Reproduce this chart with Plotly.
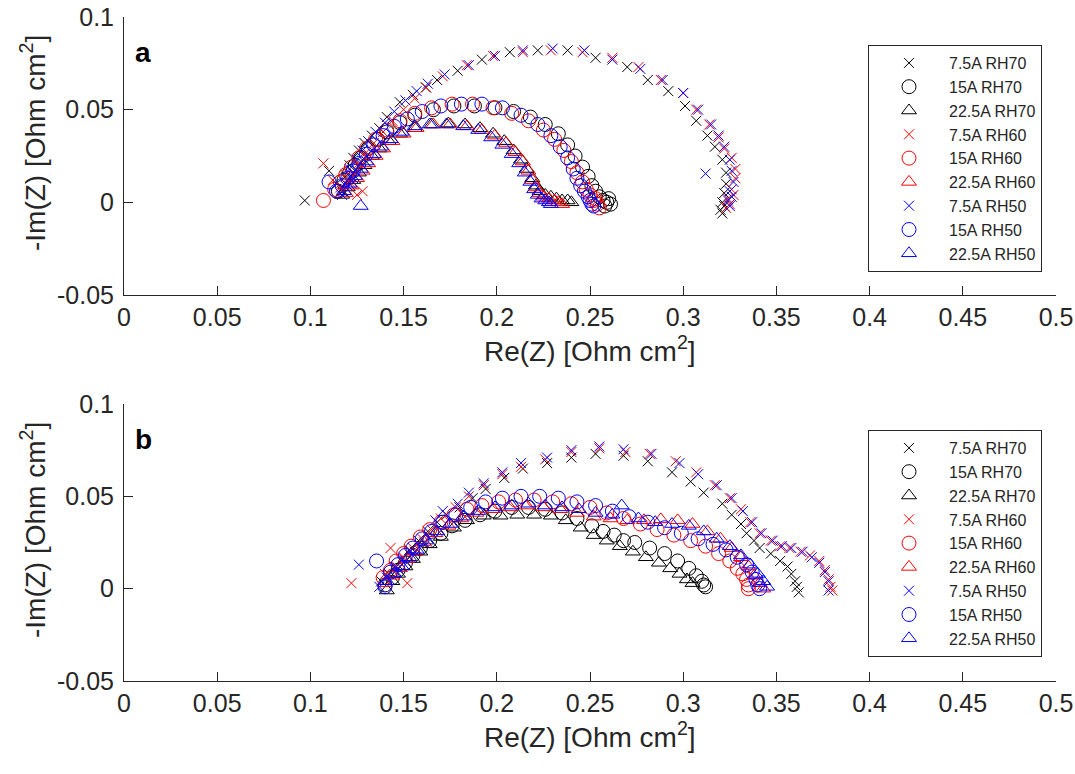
import plotly.graph_objects as go

# ---------------- Panel a data ----------------
a_k_x75_x = [0.097, 0.110, 0.114, 0.117, 0.119, 0.121, 0.123, 0.126, 0.129, 0.133, 0.137, 0.141, 0.148, 0.155, 0.162, 0.168, 0.179, 0.192, 0.207, 0.222, 0.238, 0.253, 0.270, 0.281, 0.292, 0.301, 0.307, 0.313, 0.317, 0.321, 0.323, 0.323, 0.322, 0.321, 0.320, 0.321, 0.322]
a_k_x75_y = [0.001, 0.017, 0.010, 0.006, 0.014, 0.020, 0.024, 0.028, 0.032, 0.036, 0.040, 0.046, 0.054, 0.058, 0.062, 0.066, 0.071, 0.077, 0.081, 0.082, 0.082, 0.078, 0.073, 0.066, 0.060, 0.052, 0.044, 0.036, 0.030, 0.023, 0.016, 0.010, 0.005, 0.000, -0.004, -0.006, -0.002]
a_k_o15_x = [0.115, 0.118, 0.121, 0.124, 0.127, 0.131, 0.136, 0.141, 0.148, 0.156, 0.166, 0.177, 0.188, 0.199, 0.209, 0.218, 0.226, 0.233, 0.238, 0.242, 0.246, 0.249, 0.251, 0.253, 0.255, 0.257, 0.259, 0.261, 0.260, 0.258]
a_k_o15_y = [0.006, 0.012, 0.016, 0.020, 0.024, 0.029, 0.034, 0.038, 0.043, 0.047, 0.050, 0.052, 0.052, 0.051, 0.049, 0.046, 0.042, 0.037, 0.031, 0.025, 0.019, 0.014, 0.009, 0.006, 0.003, 0.001, 0.000, -0.001, 0.002, -0.002]
a_k_t22_x = [0.117, 0.120, 0.123, 0.126, 0.129, 0.133, 0.137, 0.142, 0.148, 0.156, 0.165, 0.174, 0.183, 0.191, 0.198, 0.204, 0.209, 0.213, 0.216, 0.219, 0.221, 0.223, 0.226, 0.229, 0.232, 0.235, 0.238, 0.240]
a_k_t22_y = [0.004, 0.008, 0.012, 0.016, 0.020, 0.025, 0.029, 0.033, 0.037, 0.040, 0.042, 0.0425, 0.042, 0.040, 0.037, 0.033, 0.028, 0.023, 0.018, 0.013, 0.009, 0.006, 0.004, 0.003, 0.002, 0.001, 0.001, 0.000]

a_r_x75_x = [0.107, 0.112, 0.116, 0.119, 0.122, 0.125, 0.128, 0.126, 0.130, 0.134, 0.139, 0.144, 0.150, 0.156, 0.162, 0.171, 0.184, 0.198, 0.214, 0.229, 0.246, 0.262, 0.276, 0.288, 0.300, 0.307, 0.314, 0.319, 0.322, 0.326, 0.328, 0.328, 0.326, 0.324, 0.323, 0.325, 0.327]
a_r_x75_y = [0.021, 0.012, 0.008, 0.015, 0.010, 0.004, 0.006, 0.021, 0.027, 0.032, 0.038, 0.044, 0.050, 0.056, 0.062, 0.068, 0.074, 0.079, 0.081, 0.082, 0.081, 0.078, 0.073, 0.066, 0.059, 0.050, 0.042, 0.035, 0.029, 0.024, 0.018, 0.013, 0.007, 0.002, -0.003, -0.001, 0.004]
a_r_o15_x = [0.107, 0.113, 0.116, 0.119, 0.122, 0.126, 0.130, 0.135, 0.141, 0.148, 0.156, 0.165, 0.176, 0.187, 0.198, 0.208, 0.217, 0.225, 0.231, 0.236, 0.240, 0.243, 0.246, 0.248, 0.250, 0.252, 0.254, 0.255, 0.253]
a_r_o15_y = [0.001, 0.007, 0.011, 0.015, 0.019, 0.024, 0.029, 0.034, 0.039, 0.044, 0.048, 0.051, 0.053, 0.053, 0.051, 0.048, 0.044, 0.039, 0.034, 0.028, 0.022, 0.016, 0.011, 0.007, 0.004, 0.001, -0.001, -0.003, 0.002]
a_r_t22_x = [0.119, 0.122, 0.125, 0.128, 0.131, 0.135, 0.139, 0.144, 0.150, 0.157, 0.166, 0.175, 0.184, 0.192, 0.199, 0.205, 0.210, 0.214, 0.217, 0.219, 0.221, 0.223, 0.225, 0.228, 0.231, 0.233, 0.235]
a_r_t22_y = [0.005, 0.009, 0.013, 0.017, 0.021, 0.025, 0.029, 0.033, 0.037, 0.040, 0.042, 0.042, 0.041, 0.039, 0.036, 0.032, 0.027, 0.022, 0.017, 0.012, 0.008, 0.005, 0.003, 0.002, 0.001, 0.000, -0.001]

a_b_x75_x = [0.117, 0.120, 0.123, 0.121, 0.125, 0.128, 0.131, 0.135, 0.140, 0.145, 0.151, 0.157, 0.163, 0.172, 0.185, 0.199, 0.214, 0.230, 0.247, 0.262, 0.277, 0.289, 0.300, 0.308, 0.312, 0.315, 0.319, 0.322, 0.325, 0.326, 0.327, 0.325, 0.324, 0.325, 0.326]
a_b_x75_y = [0.004, 0.009, 0.013, 0.018, 0.023, 0.028, 0.033, 0.038, 0.043, 0.049, 0.055, 0.060, 0.064, 0.069, 0.074, 0.079, 0.082, 0.083, 0.082, 0.077, 0.072, 0.066, 0.059, 0.050, 0.0155, 0.042, 0.036, 0.030, 0.023, 0.017, 0.011, 0.006, 0.001, -0.002, 0.003]
a_b_o15_x = [0.110, 0.114, 0.117, 0.120, 0.123, 0.126, 0.130, 0.134, 0.139, 0.145, 0.152, 0.160, 0.170, 0.181, 0.192, 0.203, 0.213, 0.222, 0.229, 0.234, 0.238, 0.241, 0.243, 0.245, 0.247, 0.249, 0.250, 0.251, 0.252]
a_b_o15_y = [0.011, 0.006, 0.009, 0.013, 0.017, 0.021, 0.026, 0.031, 0.036, 0.041, 0.045, 0.049, 0.052, 0.053, 0.053, 0.051, 0.047, 0.042, 0.036, 0.030, 0.024, 0.018, 0.013, 0.009, 0.006, 0.003, 0.001, -0.001, -0.002]
a_b_t22_x = [0.127, 0.118, 0.121, 0.124, 0.127, 0.130, 0.134, 0.138, 0.143, 0.149, 0.156, 0.164, 0.173, 0.182, 0.190, 0.197, 0.203, 0.208, 0.212, 0.215, 0.218, 0.220, 0.222, 0.224, 0.226, 0.228, 0.229]
a_b_t22_y = [-0.002, 0.006, 0.010, 0.014, 0.018, 0.022, 0.026, 0.030, 0.034, 0.038, 0.041, 0.042, 0.042, 0.041, 0.039, 0.035, 0.031, 0.026, 0.021, 0.016, 0.011, 0.007, 0.004, 0.002, 0.001, 0.000, -0.001]

# ---------------- Panel b data ----------------
b_k_x75_x = [0.138, 0.142, 0.145, 0.149, 0.153, 0.158, 0.163, 0.168, 0.173, 0.180, 0.187, 0.194, 0.204, 0.214, 0.227, 0.240, 0.253, 0.268, 0.281, 0.294, 0.304, 0.311, 0.321, 0.326, 0.331, 0.334, 0.338, 0.341, 0.347, 0.352, 0.356, 0.358, 0.360, 0.361, 0.362]
b_k_x75_y = [0.004, 0.008, 0.012, 0.016, 0.021, 0.026, 0.031, 0.036, 0.040, 0.044, 0.049, 0.054, 0.060, 0.065, 0.068, 0.071, 0.073, 0.072, 0.069, 0.063, 0.058, 0.052, 0.046, 0.040, 0.035, 0.030, 0.026, 0.022, 0.019, 0.015, 0.012, 0.008, 0.004, 0.001, -0.002]
b_k_o15_x = [0.140, 0.144, 0.147, 0.151, 0.155, 0.159, 0.164, 0.170, 0.176, 0.183, 0.191, 0.199, 0.208, 0.217, 0.226, 0.235, 0.243, 0.251, 0.257, 0.263, 0.268, 0.274, 0.282, 0.290, 0.297, 0.303, 0.307, 0.310, 0.312, 0.311]
b_k_o15_y = [0.002, 0.006, 0.010, 0.014, 0.018, 0.022, 0.026, 0.030, 0.034, 0.037, 0.040, 0.042, 0.044, 0.044, 0.043, 0.041, 0.038, 0.034, 0.031, 0.029, 0.026, 0.025, 0.022, 0.019, 0.015, 0.011, 0.007, 0.004, 0.001, 0.002]
b_k_t22_x = [0.141, 0.144, 0.147, 0.151, 0.155, 0.159, 0.164, 0.170, 0.177, 0.184, 0.193, 0.202, 0.211, 0.220, 0.229, 0.237, 0.245, 0.252, 0.259, 0.266, 0.273, 0.280, 0.287, 0.293, 0.298, 0.302, 0.305]
b_k_t22_y = [-0.001, 0.004, 0.008, 0.012, 0.016, 0.020, 0.024, 0.028, 0.033, 0.037, 0.0395, 0.0395, 0.040, 0.040, 0.0395, 0.037, 0.033, 0.029, 0.026, 0.023, 0.020, 0.017, 0.014, 0.011, 0.008, 0.005, 0.003]

b_r_x75_x = [0.122, 0.143, 0.152, 0.140, 0.146, 0.150, 0.155, 0.160, 0.165, 0.170, 0.178, 0.185, 0.193, 0.203, 0.213, 0.226, 0.240, 0.255, 0.269, 0.282, 0.296, 0.307, 0.317, 0.325, 0.331, 0.336, 0.341, 0.347, 0.352, 0.357, 0.363, 0.368, 0.373, 0.376, 0.378, 0.379, 0.380]
b_r_x75_y = [0.003, 0.022, 0.003, 0.008, 0.012, 0.017, 0.022, 0.027, 0.032, 0.038, 0.044, 0.050, 0.056, 0.062, 0.066, 0.070, 0.074, 0.076, 0.074, 0.073, 0.069, 0.063, 0.056, 0.049, 0.043, 0.036, 0.030, 0.026, 0.023, 0.022, 0.020, 0.018, 0.015, 0.010, 0.005, 0.001, -0.001]
b_r_o15_x = [0.139, 0.143, 0.146, 0.150, 0.154, 0.159, 0.164, 0.170, 0.177, 0.184, 0.192, 0.201, 0.210, 0.220, 0.230, 0.240, 0.250, 0.259, 0.268, 0.277, 0.286, 0.295, 0.304, 0.312, 0.319, 0.325, 0.329, 0.332, 0.334, 0.335, 0.335]
b_r_o15_y = [0.006, 0.010, 0.015, 0.019, 0.023, 0.028, 0.032, 0.036, 0.040, 0.043, 0.045, 0.047, 0.048, 0.048, 0.047, 0.046, 0.044, 0.041, 0.038, 0.035, 0.032, 0.029, 0.026, 0.023, 0.019, 0.015, 0.011, 0.008, 0.005, 0.002, 0.000]
b_r_t22_x = [0.140, 0.144, 0.148, 0.152, 0.156, 0.161, 0.167, 0.174, 0.181, 0.189, 0.198, 0.207, 0.216, 0.225, 0.234, 0.243, 0.252, 0.261, 0.270, 0.279, 0.288, 0.297, 0.305, 0.313, 0.320, 0.326, 0.331, 0.335, 0.338, 0.341, 0.343]
b_r_t22_y = [0.003, 0.007, 0.011, 0.016, 0.020, 0.025, 0.030, 0.034, 0.038, 0.041, 0.043, 0.044, 0.045, 0.044, 0.043, 0.041, 0.039, 0.038, 0.037, 0.037, 0.0375, 0.037, 0.035, 0.031, 0.027, 0.022, 0.017, 0.012, 0.007, 0.003, 0.000]

b_b_x75_x = [0.126, 0.137, 0.141, 0.147, 0.151, 0.156, 0.161, 0.167, 0.171, 0.179, 0.185, 0.193, 0.203, 0.213, 0.227, 0.240, 0.255, 0.268, 0.283, 0.298, 0.308, 0.318, 0.326, 0.332, 0.337, 0.342, 0.348, 0.353, 0.358, 0.364, 0.369, 0.373, 0.376, 0.378, 0.378]
b_b_x75_y = [0.013, 0.001, 0.006, 0.011, 0.015, 0.020, 0.025, 0.037, 0.042, 0.046, 0.052, 0.057, 0.063, 0.068, 0.071, 0.075, 0.077, 0.0755, 0.073, 0.068, 0.062, 0.056, 0.049, 0.042, 0.036, 0.030, 0.026, 0.023, 0.022, 0.020, 0.017, 0.014, 0.009, 0.004, -0.001]
b_b_o15_x = [0.1355, 0.140, 0.143, 0.147, 0.151, 0.155, 0.160, 0.165, 0.171, 0.178, 0.186, 0.194, 0.203, 0.213, 0.223, 0.233, 0.243, 0.253, 0.262, 0.271, 0.281, 0.290, 0.299, 0.308, 0.316, 0.323, 0.329, 0.334, 0.337, 0.339, 0.340, 0.341]
b_b_o15_y = [0.015, 0.001, 0.009, 0.013, 0.018, 0.022, 0.027, 0.031, 0.036, 0.040, 0.044, 0.047, 0.049, 0.050, 0.050, 0.049, 0.047, 0.045, 0.042, 0.039, 0.036, 0.033, 0.030, 0.027, 0.024, 0.021, 0.017, 0.013, 0.009, 0.005, 0.002, 0.000]
b_b_t22_x = [0.141, 0.145, 0.149, 0.153, 0.157, 0.162, 0.168, 0.175, 0.182, 0.190, 0.199, 0.208, 0.217, 0.226, 0.235, 0.244, 0.253, 0.262, 0.267, 0.276, 0.285, 0.294, 0.303, 0.311, 0.318, 0.325, 0.331, 0.336, 0.340, 0.343, 0.345]
b_b_t22_y = [0.004, 0.008, 0.012, 0.017, 0.021, 0.026, 0.031, 0.035, 0.039, 0.042, 0.044, 0.045, 0.046, 0.045, 0.044, 0.043, 0.041, 0.040, 0.045, 0.038, 0.036, 0.035, 0.034, 0.031, 0.027, 0.023, 0.018, 0.013, 0.008, 0.004, 0.001]

series_names = ["7.5A RH70", "15A RH70", "22.5A RH70",
                "7.5A RH60", "15A RH60", "22.5A RH60",
                "7.5A RH50", "15A RH50", "22.5A RH50"]
x_ticks = [0, 0.05, 0.1, 0.15, 0.2, 0.25, 0.3, 0.35, 0.4, 0.45, 0.5]
x_ticktext = ["0", "0.05", "0.1", "0.15", "0.2", "0.25", "0.3", "0.35", "0.4", "0.45", "0.5"]
y_ticks = [-0.05, 0, 0.05, 0.1]
y_ticktext = ["-0.05", "0", "0.05", "0.1"]
x_title = "Re(Z) [Ohm cm<sup>2</sup>]"
y_title = "-Im(Z) [Ohm cm<sup>2</sup>]"
panel_labels = ["a", "b"]

panel_a = [(a_k_x75_x, a_k_x75_y), (a_k_o15_x, a_k_o15_y), (a_k_t22_x, a_k_t22_y),
           (a_r_x75_x, a_r_x75_y), (a_r_o15_x, a_r_o15_y), (a_r_t22_x, a_r_t22_y),
           (a_b_x75_x, a_b_x75_y), (a_b_o15_x, a_b_o15_y), (a_b_t22_x, a_b_t22_y)]
panel_b = [(b_k_x75_x, b_k_x75_y), (b_k_o15_x, b_k_o15_y), (b_k_t22_x, b_k_t22_y),
           (b_r_x75_x, b_r_x75_y), (b_r_o15_x, b_r_o15_y), (b_r_t22_x, b_r_t22_y),
           (b_b_x75_x, b_b_x75_y), (b_b_o15_x, b_b_o15_y), (b_b_t22_x, b_b_t22_y)]

colors = ["#000000"] * 3 + ["#FF0000"] * 3 + ["#0000FF"] * 3
symbols = ["x-thin-open", "circle-open", "triangle-up-open"] * 3
sizes = [10, 14, 13] * 3

W, H = 1075, 774
AX = "#262626"
FONT = "Liberation Sans, Arial, Helvetica, sans-serif"


def fx(px):
    return px / W


def fy(py):
    return 1 - py / H


fig = go.Figure()
for panel, (xa, ya, lg) in zip([panel_a, panel_b], [("x", "y", "legend"), ("x2", "y2", "legend2")]):
    for i, (xs, ys) in enumerate(panel):
        fig.add_trace(go.Scatter(
            x=xs, y=ys, mode="markers", name=series_names[i],
            xaxis=xa, yaxis=ya, legend=lg,
            marker=dict(symbol=symbols[i], size=sizes[i], color=colors[i],
                        line=dict(color=colors[i], width=1)),
            cliponaxis=False,
        ))

xdom = [fx(124), fx(1056)]
ydom_a = [fy(295), fy(17)]
ydom_b = [fy(681), fy(404)]


def xaxis_cfg(dom, anchor):
    return dict(domain=dom, anchor=anchor, range=[0, 0.5], tickvals=x_ticks, ticktext=x_ticktext,
                showgrid=False, zeroline=False, showline=True, linecolor=AX, linewidth=1,
                ticks="inside", ticklen=9, tickwidth=1, tickcolor=AX,
                tickfont=dict(family=FONT, size=25, color=AX), ticklabeloverflow="allow",
                automargin=False)


def yaxis_cfg(dom, anchor):
    return dict(domain=dom, anchor=anchor, range=[-0.05, 0.1], tickvals=y_ticks, ticktext=y_ticktext,
                showgrid=False, zeroline=False, showline=True, linecolor=AX, linewidth=1,
                ticks="inside", ticklen=9, tickwidth=1, tickcolor=AX,
                tickfont=dict(family=FONT, size=25, color=AX), ticklabelstandoff=4,
                ticklabeloverflow="allow", automargin=False)


legend_common = dict(xanchor="left", yanchor="top", bordercolor=AX, borderwidth=1, bgcolor="white",
                     font=dict(family=FONT, size=16, color=AX), itemwidth=70, tracegroupgap=0,
                     itemclick=False, itemdoubleclick=False)

annotations = []
for k, (top, bottom) in enumerate([(17, 295), (404, 681)]):
    annotations.append(dict(text="<b>%s</b>" % panel_labels[k], xref="paper", yref="paper",
                            x=fx(133), y=fy(top + 35), xanchor="left", yanchor="middle",
                            showarrow=False, font=dict(family=FONT, size=28, color="black")))
    annotations.append(dict(text=x_title, xref="paper", yref="paper", x=fx(590), y=fy(bottom + 54),
                            xanchor="center", yanchor="middle", showarrow=False,
                            font=dict(family=FONT, size=28, color=AX)))
    annotations.append(dict(text=y_title, xref="paper", yref="paper", x=fx(33), y=fy(top + 126),
                            xanchor="center", yanchor="middle", showarrow=False, textangle=-90,
                            font=dict(family=FONT, size=28, color=AX)))

fig.update_layout(
    width=W, height=H, margin=dict(l=0, r=0, t=0, b=0),
    paper_bgcolor="white", plot_bgcolor="white",
    xaxis=xaxis_cfg(xdom, "y"), yaxis=yaxis_cfg(ydom_a, "x"),
    xaxis2=xaxis_cfg(xdom, "y2"), yaxis2=yaxis_cfg(ydom_b, "x2"),
    legend=dict(x=fx(868), y=fy(45), **legend_common),
    legend2=dict(x=fx(868), y=fy(430), **legend_common),
    showlegend=True,
    annotations=annotations,
)

# remove the page's default body margin so the figure fills the window exactly
fig.write_html("out.html", config={"displayModeBar": False},
               post_script="document.body.style.margin='0';document.body.style.overflow='hidden';")
